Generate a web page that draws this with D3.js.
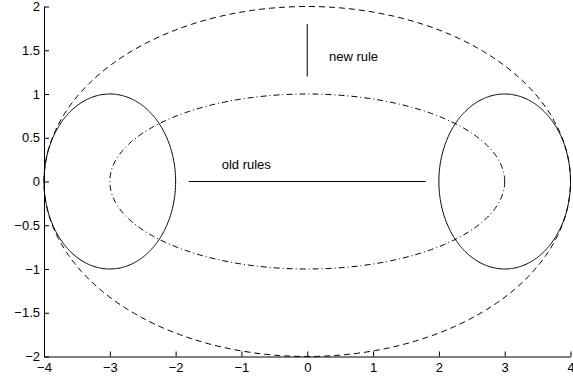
<!DOCTYPE html>
<html>
<head>
<meta charset="utf-8">
<script src="https://cdn.jsdelivr.net/npm/d3@7"></script>
<style>
  html, body { margin: 0; padding: 0; background: #fff; }
  svg { display: block; }
  text { font-family: "Liberation Sans", Arial, sans-serif; font-size: 13px; fill: #000; }
</style>
</head>
<body>
<svg id="chart" width="573" height="382"></svg>
<script>
// Axis ticks
const xTicks = [-4, -3, -2, -1, 0, 1, 2, 3, 4];
const yTicks = [-2, -1.5, -1, -0.5, 0, 0.5, 1, 1.5, 2];

// Ellipses: centre (cx, cy), semi-axes (rx, ry), line style
const ellipseCx = [0, 0, -3, 3];
const ellipseCy = [0, 0, 0, 0];
const ellipseRx = [4, 3, 1, 1];
const ellipseRy = [2, 1, 1, 1];
const ellipseStyle = ["dashed", "dashdot", "solid", "solid"];

// Rule segments [x1, y1, x2, y2]
const ruleOld = [-1.8, 0, 1.8, 0];
const ruleNew = [0, 1.2, 0, 1.8];

// Annotations
const labelText = ["old rules", "new rule"];
const labelX = [-1.3, 0.33];
const labelY = [0.18, 1.42];

const svg = d3.select("#chart");
const margin = { left: 44, right: 2.5, top: 6.5, bottom: 25.5 };
const W = 573, H = 382;

const x = d3.scaleLinear().domain([-4, 4]).range([margin.left, W - margin.right]);
const y = d3.scaleLinear().domain([-2, 2]).range([H - margin.bottom, margin.top]);

const dashes = { dashed: "6,4", dashdot: "6,3,1,3", solid: null };

// Ellipse outlines sampled through the scales
const line = d3.line().x(d => x(d[0])).y(d => y(d[1]));
ellipseCx.forEach((cx, i) => {
  const pts = d3.range(0, 361).map(k => {
    const t = k * Math.PI / 180;
    return [cx + ellipseRx[i] * Math.cos(t), ellipseCy[i] + ellipseRy[i] * Math.sin(t)];
  });
  svg.append("path")
    .attr("d", line(pts))
    .attr("fill", "none")
    .attr("stroke", "#000")
    .attr("stroke-width", 1)
    .attr("stroke-dasharray", dashes[ellipseStyle[i]]);
});

// Rules
[ruleOld, ruleNew].forEach(r => {
  svg.append("line")
    .attr("x1", x(r[0])).attr("y1", y(r[1]))
    .attr("x2", x(r[2])).attr("y2", y(r[3]))
    .attr("stroke", "#000").attr("stroke-width", 1);
});

// Labels
labelText.forEach((t, i) => {
  svg.append("text")
    .attr("x", x(labelX[i])).attr("y", y(labelY[i]))
    .attr("dominant-baseline", "middle")
    .text(t);
});

// Axes with inward ticks
const fmt = d => (d < 0 ? "\u2212" : "") + Math.abs(d);
const xAxis = d3.axisBottom(x).tickValues(xTicks).tickSizeInner(-5).tickSizeOuter(0).tickPadding(6).tickFormat(fmt);
const yAxis = d3.axisLeft(y).tickValues(yTicks).tickSizeInner(-5).tickSizeOuter(0).tickPadding(4).tickFormat(fmt);

const gx = svg.append("g").attr("transform", `translate(0,${H - margin.bottom})`).call(xAxis);
const gy = svg.append("g").attr("transform", `translate(${margin.left},0)`).call(yAxis);
[gx, gy].forEach(g => {
  g.selectAll("text").style("font-family", "'Liberation Sans', Arial, sans-serif").style("font-size", "13px").attr("fill", "#000");
  g.selectAll("line, path").attr("stroke", "#000");
});
</script>
</body>
</html>
